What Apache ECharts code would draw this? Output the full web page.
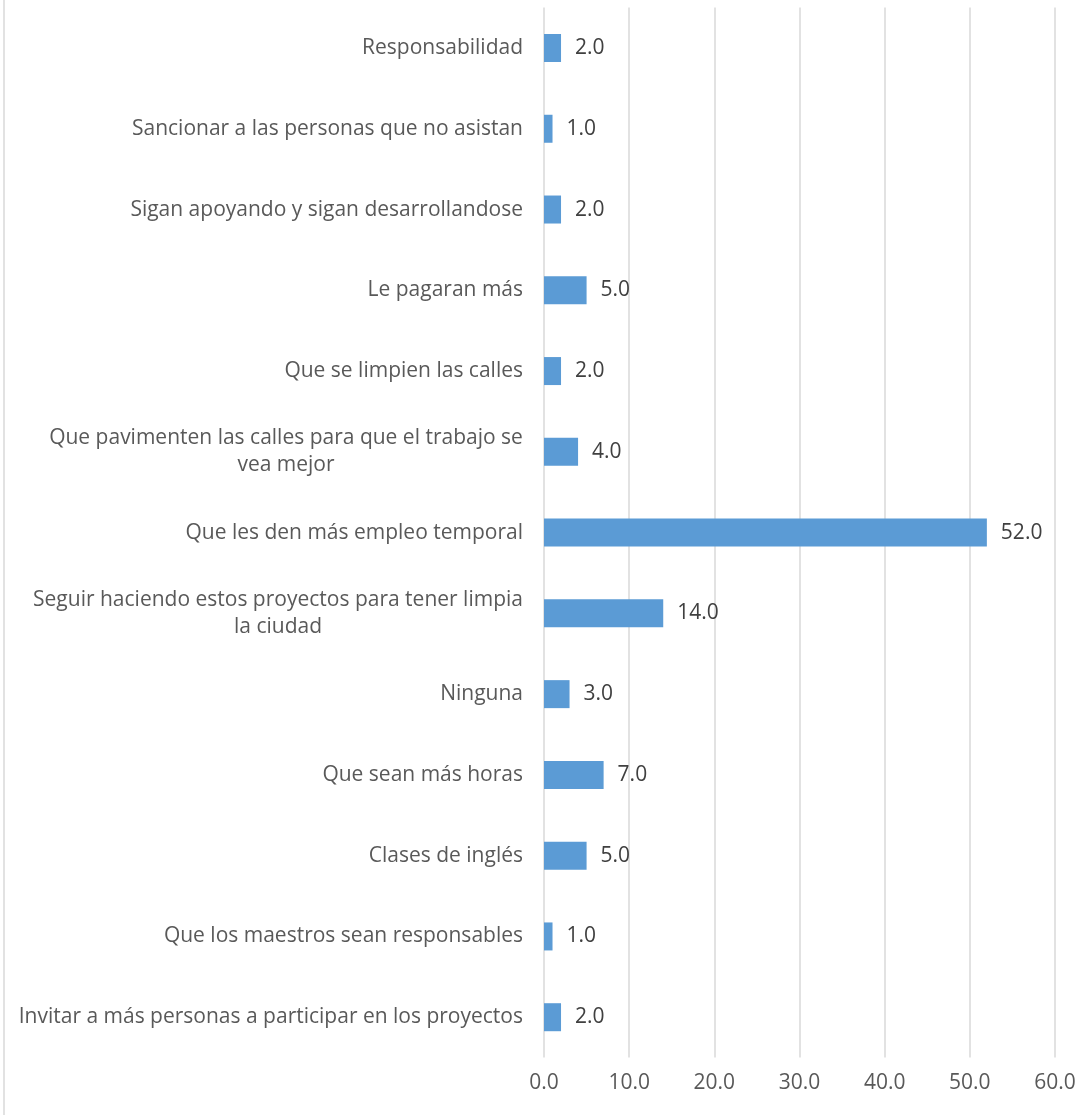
<!DOCTYPE html>
<html>
<head>
<meta charset="utf-8">
<script src="https://cdn.jsdelivr.net/npm/echarts@6/dist/echarts.min.js"></script>
<style>
html,body{margin:0;padding:0;background:#fff;}
#chart{width:1092px;height:1115px;}
</style>
</head>
<body>
<div id="chart"></div>
<script>
// Categories, top to bottom
const categories = [
  "Responsabilidad",
  "Sancionar a las personas que no asistan",
  "Sigan apoyando y sigan desarrollandose",
  "Le pagaran más",
  "Que se limpien las calles",
  "Que pavimenten las calles para que el trabajo se\nvea mejor",
  "Que les den más empleo temporal",
  "Seguir haciendo estos proyectos para tener limpia\nla ciudad",
  "Ninguna",
  "Que sean más horas",
  "Clases de inglés",
  "Que los maestros sean responsables",
  "Invitar a más personas a participar en los proyectos"
];
const values = [2.0, 1.0, 2.0, 5.0, 2.0, 4.0, 52.0, 14.0, 3.0, 7.0, 5.0, 1.0, 2.0];
const xTicks = [0, 10, 20, 30, 40, 50, 60];

const FONT = "Open Sans";
const LABEL_SIZE = 21;
const ctx = document.createElement('canvas').getContext('2d');
ctx.font = LABEL_SIZE + 'px "' + FONT + '"';

const rich = {};
categories.forEach((c, i) => {
  const lines = c.split('\n');
  const w = Math.max(...lines.map(l => ctx.measureText(l).width));
  rich['c' + i] = {width: Math.ceil(w), align: 'center', fontFamily: FONT, fontSize: LABEL_SIZE, color: '#595959', lineHeight: 27};
});

const chart = echarts.init(document.getElementById('chart'), null, {renderer: 'canvas'});
chart.setOption({
  animation: false,
  backgroundColor: '#fff',
  grid: {left: 544, right: 37, top: 7.6, bottom: 57.4, containLabel: false},
  xAxis: {
    type: 'value',
    min: xTicks[0],
    max: xTicks[xTicks.length - 1],
    interval: 10,
    axisLine: {show: false},
    axisTick: {show: false},
    splitLine: {show: true, lineStyle: {color: '#d9d9d9', width: 1.5}},
    axisLabel: {
      formatter: v => v.toFixed(1),
      color: '#595959',
      fontFamily: FONT,
      fontSize: LABEL_SIZE,
      margin: 15
    }
  },
  yAxis: {
    type: 'category',
    data: categories,
    inverse: true,
    axisLine: {show: false},
    axisTick: {show: false},
    splitLine: {show: false},
    axisLabel: {
      margin: 21,
      color: '#595959',
      fontFamily: FONT,
      fontSize: LABEL_SIZE,
      lineHeight: 27,
      formatter: (v) => {
        const i = categories.indexOf(v);
        const lines = v.split('\n');
        if (lines.length === 1) return v;
        return lines.map(l => '{c' + i + '|' + l + '}').join('\n');
      },
      rich: rich
    }
  },
  series: [{
    type: 'bar',
    data: values,
    barWidth: 28,
    itemStyle: {color: '#5b9bd5'},
    label: {
      show: true,
      position: 'right',
      distance: 14,
      formatter: p => p.value.toFixed(1),
      color: '#404040',
      fontFamily: FONT,
      fontSize: LABEL_SIZE
    }
  }],
  graphic: [{
    type: 'line',
    shape: {x1: 4, y1: 0, x2: 4, y2: 1115},
    style: {stroke: '#d9d9d9', lineWidth: 1.5},
    silent: true
  }]
});
</script>
</body>
</html>
